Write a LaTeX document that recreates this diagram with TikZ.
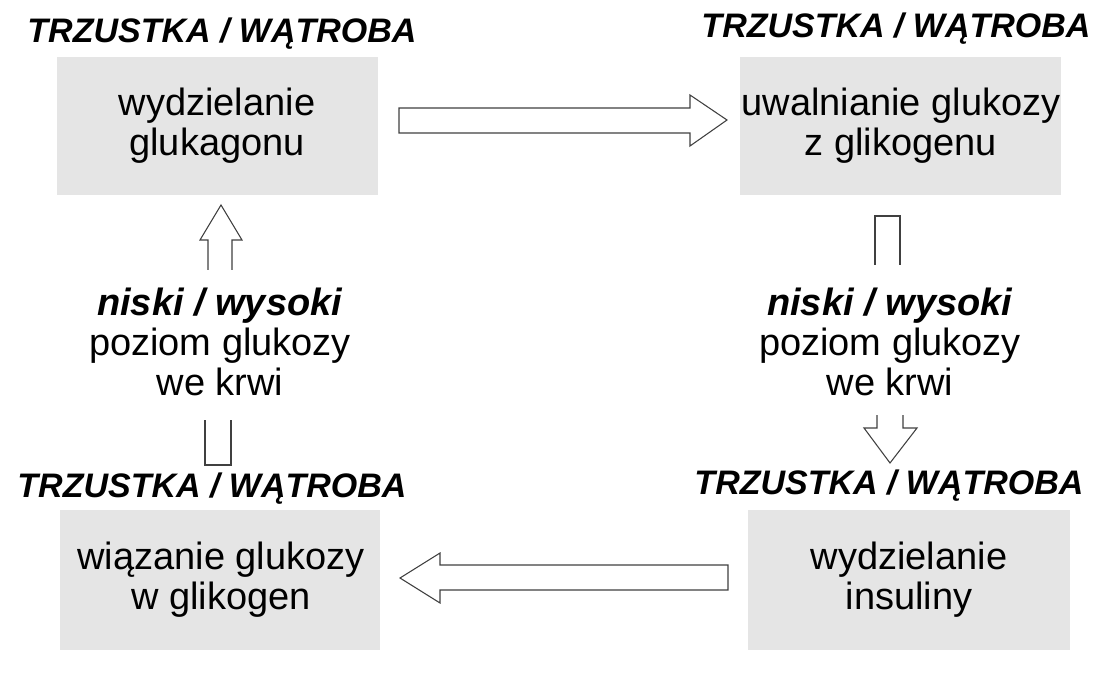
\documentclass[tikz,border=0pt]{standalone}
\usepackage{fontspec}
\setmainfont{Liberation Sans}
\begin{document}
\begin{tikzpicture}[x=0.75pt,y=-0.75pt,
    box/.style={fill=black!10},
    title/.style={font=\fontsize{25.5}{30}\selectfont\bfseries\itshape},
    body/.style={font=\fontsize{28.5}{30}\selectfont,align=center},
    blockarrow/.style={draw=black!75,fill=white,line width=0.8pt,line join=miter}]

            \useasboundingbox (0,0) rectangle (1112,680);

            % Boxes
            \fill[box] (57,57) rectangle (378,195);
            \fill[box] (740,57) rectangle (1061,195);
            \fill[box] (60,510) rectangle (380,650);
            \fill[box] (748,510) rectangle (1070,650);

            % Titles
            \node[title] (t1) at (222,34) {TRZUSTKA / WĄTROBA};
            \node[title] (t2) at (896,29) {TRZUSTKA / WĄTROBA};
            \node[title] (t3) at (212,489) {TRZUSTKA / WĄTROBA};
            \node[title] (t4) at (889,486) {TRZUSTKA / WĄTROBA};

            % Box texts
            \node[body] (glukagon) at (217,126) {wydzielanie\\glukagonu};
            \node[body] (uwalnianie) at (901,126) {uwalnianie glukozy\\z glikogenu};
            \node[body] (wiazanie) at (221,580) {wiązanie glukozy\\w glikogen};
            \node[body] (insulina) at (909,580) {wydzielanie\\insuliny};

            % Middle texts
            \node[body] (lewy) at (220,342) {\textbf{\textit{niski / wysoki}}\\poziom glukozy\\we krwi};
            \node[body] (prawy) at (890,342) {\textbf{\textit{niski / wysoki}}\\poziom glukozy\\we krwi};

            % Block arrows
            \draw[blockarrow] (399,108) -- (690,108) -- (690,95) -- (727,120) -- (690,146) -- (690,133) -- (399,133) -- cycle;
            \draw[blockarrow] (728,565) -- (440,565) -- (440,553) -- (400,578) -- (440,603) -- (440,590) -- (728,590) -- cycle;
            \draw[blockarrow] (875,265) -- (875,216) -- (900,216) -- (900,265);
            \draw[blockarrow] (877,415) -- (877,428) -- (864,428) -- (890,463) -- (917,428) -- (903,428) -- (903,415);
            \draw[blockarrow] (208,270) -- (208,240) -- (200,240) -- (221,205) -- (242,240) -- (232,240) -- (232,270);
            \draw[blockarrow] (205,420) -- (205,465) -- (231,465) -- (231,420);

\end{tikzpicture}
\end{document}
